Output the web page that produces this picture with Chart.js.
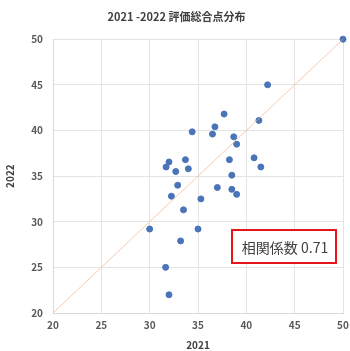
<!DOCTYPE html>
<html>
<head>
<meta charset="utf-8">
<script src="https://cdn.jsdelivr.net/npm/chart.js@4.4.0/dist/chart.umd.min.js"></script>
<style>
  html, body { margin: 0; padding: 0; background: #fff; }
  #wrap { width: 350px; height: 351px; }
</style>
</head>
<body>
<div id="wrap"><canvas id="chart"></canvas></div>
<script>
// scores: 2021 (x) vs 2022 (y)
const score2021 = [50, 42.2, 37.7, 41.3, 34.4, 36.75, 36.5, 38.7, 39.0, 31.7, 32.0, 33.7, 32.7, 34.0, 32.9, 32.25, 33.5, 35.3, 37.0, 38.25, 38.5, 38.5, 39.0, 40.8, 41.5, 30.0, 35.0, 33.2, 31.65, 32.0];
const score2022 = [50, 45.0, 41.8, 41.1, 39.85, 40.4, 39.6, 39.3, 38.5, 36.0, 36.55, 36.8, 35.5, 35.8, 34.0, 32.8, 31.3, 32.5, 33.75, 36.8, 35.1, 33.55, 33.0, 37.0, 36.0, 29.2, 29.2, 27.9, 25.0, 22.0];
const refLine = [20, 50];
const axisTicks = [20, 25, 30, 35, 40, 45, 50];
const corrLabel = '相関係数 0.71';

const fontFamily = '"Noto Sans CJK JP", "Noto Sans", sans-serif';

const points = score2021.map((x, i) => ({ x: x, y: score2022[i] }));
const diagonal = refLine.map(v => ({ x: v, y: v }));

// red box with the correlation text
const corrBox = {
  id: 'corrBox',
  afterDraw(chart) {
    const ctx = chart.ctx;
    const x0 = 232, y0 = 230, w = 104, h = 33;
    ctx.save();
    ctx.fillStyle = '#fff';
    ctx.fillRect(x0, y0, w, h);
    ctx.strokeStyle = '#e8141b';
    ctx.lineWidth = 2;
    ctx.strokeRect(x0, y0, w, h);
    ctx.fillStyle = '#404040';
    ctx.font = '14px ' + fontFamily;
    ctx.textAlign = 'center';
    ctx.textBaseline = 'middle';
    ctx.fillText(corrLabel, x0 + w / 2 + 1, y0 + h / 2 + 1);
    ctx.restore();
  }
};

new Chart(document.getElementById('chart'), {
  type: 'scatter',
  data: {
    datasets: [
      {
        type: 'line',
        data: diagonal,
        borderColor: 'rgba(244, 180, 140, 0.7)',
        borderWidth: 1,
        pointRadius: 0,
        fill: false
      },
      {
        data: points,
        backgroundColor: '#4a74b8',
        borderColor: '#4a74b8',
        pointRadius: 3,
        pointHoverRadius: 3,
        clip: false
      }
    ]
  },
  options: {
    responsive: true,
    maintainAspectRatio: false,
    animation: false,
    layout: { padding: { left: 4, right: 1, top: 0, bottom: 0 } },
    plugins: {
      legend: { display: false },
      tooltip: { enabled: false },
      title: {
        display: true,
        text: '2021 -2022 評価総合点分布',
        color: '#404040',
        font: { family: fontFamily, size: 11, weight: 'bold' },
        padding: { top: 10, bottom: 16 }
      }
    },
    scales: {
      x: {
        type: 'linear',
        min: 20,
        max: 50,
        afterBuildTicks: s => { s.ticks = axisTicks.map(v => ({ value: v })); },
        afterFit: s => { s.height = 38; s.paddingRight = 7; },
        grid: { color: '#e4e4e4', tickLength: 0 },
        border: { color: '#d9d9d9' },
        ticks: { color: '#595959', padding: 6, font: { family: fontFamily, size: 10, weight: 'bold' } },
        title: {
          display: true, text: '2021', color: '#404040', padding: { top: 2, bottom: 0 },
          font: { family: fontFamily, size: 10, weight: 'bold' }
        }
      },
      y: {
        type: 'linear',
        min: 20,
        max: 50,
        afterBuildTicks: s => { s.ticks = axisTicks.map(v => ({ value: v })); },
        afterFit: s => { s.width = 49; },
        grid: { color: '#e4e4e4', tickLength: 0 },
        border: { color: '#d9d9d9' },
        ticks: { color: '#595959', padding: 10, font: { family: fontFamily, size: 10, weight: 'bold' } },
        title: {
          display: true, text: '2022', color: '#404040', padding: { top: 0, bottom: 6 },
          font: { family: fontFamily, size: 10, weight: 'bold' }
        }
      }
    }
  },
  plugins: [corrBox]
});
</script>
</body>
</html>
